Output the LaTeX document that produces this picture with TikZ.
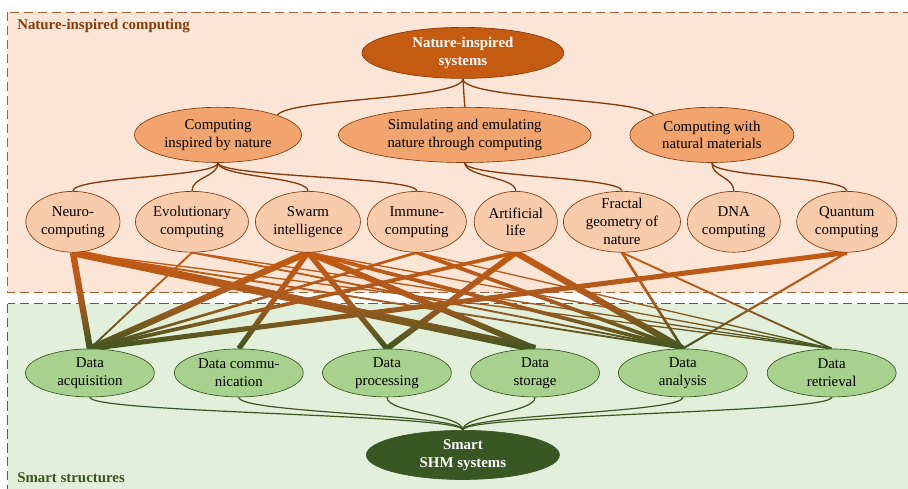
\documentclass[tikz,border=0pt]{standalone}
\usepackage{fontspec}
\setmainfont{Liberation Serif}
\usepackage{tikz}
\usetikzlibrary{shapes.geometric,calc}
\definecolor{natzone}{HTML}{FBE5D6}
\definecolor{natedge}{HTML}{A65F35}
\definecolor{natdark}{HTML}{843C0C}
\definecolor{natroot}{HTML}{C55A11}
\definecolor{natmid}{HTML}{F2A46E}
\definecolor{natleaf}{HTML}{F8CBAD}
\definecolor{smzone}{HTML}{E2EFDA}
\definecolor{smedge}{HTML}{4A6B38}
\definecolor{smdark}{HTML}{385723}
\definecolor{smleaf}{HTML}{A9D18E}
\definecolor{lnktop}{HTML}{C55A11}
\definecolor{lnkmid}{HTML}{AA5A1E}
\definecolor{lnkbot}{HTML}{3A5721}
\newcommand{\nodefont}{\fontsize{11.2}{13.5}\selectfont}
\pgfdeclarelayer{zones}
\pgfdeclarelayer{links}
\pgfsetlayers{zones,links,main}

\begin{document}
\begin{tikzpicture}[
  oval/.style={ellipse, draw, line width=0.5pt, align=center, inner sep=0pt, font=\nodefont},
  root/.style={oval, draw=natdark, fill=natroot, text=white, font=\nodefont\bfseries,
               minimum width=5.34cm, minimum height=1.35cm},
  branch/.style={oval, draw=natdark, fill=natmid, minimum height=1.46cm},
  leaf/.style={oval, draw=natdark, fill=natleaf, minimum height=1.61cm},
  task/.style={oval, draw=smdark, fill=smleaf, minimum width=3.41cm, minimum height=1.27cm},
  sink/.style={oval, draw=smdark, fill=smdark, text=white, font=\nodefont\bfseries,
               minimum width=5.11cm, minimum height=1.30cm},
  zone/.style={line width=0.8pt, dash pattern=on 7pt off 3.5pt},
  zonelab/.style={anchor=west, inner sep=0pt, font=\nodefont\bfseries},
  tie/.style={draw=natdark, line width=1pt},
  gtie/.style={draw=smdark, line width=0.9pt},
  link/.style={top color=lnktop, bottom color=lnkbot, middle color=lnkmid}]
\useasboundingbox (0,0) rectangle (24.03,-12.94);
% the two zones
\begin{pgfonlayer}{zones}
\draw[zone, draw=natedge, fill=natzone] (0.21,-0.32) rectangle (24.3,-7.75);
\draw[zone, draw=smedge, fill=smzone] (0.21,-8.04) rectangle (24.3,-13.2);
\end{pgfonlayer}
\node[zonelab, text=natdark] (natlab) at (0.45,-0.69) {Nature-inspired computing};
\node[zonelab, text=smdark] (smlab) at (0.45,-12.65) {Smart structures};
% nature-inspired tree
\node[root] (nis) at (12.25,-1.40) {Nature-inspired\\systems};
\node[branch, minimum width=4.42cm] (cin) at (5.77,-3.57) {Computing\\inspired by nature};
\node[branch, minimum width=6.69cm] (sim) at (12.30,-3.57) {Simulating and emulating\\nature through computing};
\node[branch, minimum width=4.34cm] (cwm) at (18.84,-3.57) {Computing with\\natural materials};
\node[leaf, minimum width=2.49cm] (neuro)   at (1.93,-5.87)  {Neuro-\\computing};
\node[leaf, minimum width=2.99cm] (evol)    at (5.08,-5.87)  {Evolutionary\\computing};
\node[leaf, minimum width=2.78cm] (swarm)   at (8.15,-5.87)  {Swarm\\intelligence};
\node[leaf, minimum width=2.62cm] (immune)  at (11.03,-5.87) {Immune-\\computing};
\node[leaf, minimum width=2.20cm] (alife)   at (13.65,-5.87) {Artificial\\life};
\node[leaf, minimum width=3.10cm, inner ysep=-0.11cm] (fractal) at (16.46,-5.87) {Fractal\\geometry of\\nature};
\node[leaf, minimum width=2.46cm] (dna)     at (19.42,-5.87) {DNA\\computing};
\node[leaf, minimum width=2.65cm] (quantum) at (22.41,-5.87) {Quantum\\computing};
% smart structures
\node[task] (acq)   at (2.38,-9.87)  {Data\\acquisition};
\node[task] (comm)  at (6.32,-9.87)  {Data commu-\\nication};
\node[task] (proc)  at (10.24,-9.87) {Data\\processing};
\node[task] (store) at (14.16,-9.87) {Data\\storage};
\node[task] (anal)  at (18.07,-9.87) {Data\\analysis};
\node[task] (retr)  at (22.01,-9.87) {Data\\retrieval};
\node[sink] (shm) at (12.25,-12.04) {Smart\\SHM systems};
\begin{pgfonlayer}{links}
% tree connectors
\draw[tie] (nis.south) to[out=-90, in=55, distance=0.55cm] (cin.north east);
\draw[tie] (nis.south) -- (sim.north);
\draw[tie] (nis.south) to[out=-90, in=125, distance=0.55cm] (cwm.north west);
\foreach \p/\c in {cin/neuro, cin/evol, cin/swarm, cin/immune, sim/alife, sim/fractal, cwm/dna, cwm/quantum}
  \draw[tie] (\p.south) to[out=-90, in=90, distance=0.38cm] (\c.north);
\foreach \c in {acq, comm, proc, store, anal, retr}
  \draw[gtie] (\c.south) to[out=-90, in=90, distance=0.42cm] (shm.north);
% weighted links (half widths)
\foreach \a/\b/\w in {neuro/acq/2.4pt, neuro/store/2.9pt, neuro/anal/0.7pt, neuro/retr/0.5pt,
    evol/acq/0.7pt, evol/anal/0.7pt, evol/retr/0.5pt,
    swarm/acq/2.4pt, swarm/comm/2pt, swarm/proc/2pt, swarm/store/2.2pt, swarm/anal/1.4pt, swarm/retr/0.5pt,
    immune/acq/1pt, immune/anal/1.4pt, immune/retr/0.5pt,
    alife/acq/1.4pt, alife/proc/2.2pt, alife/anal/2.4pt,
    fractal/anal/1pt, fractal/retr/0.7pt,
    quantum/acq/1.9pt, quantum/anal/0.8pt}
  \shade[link] ($(\a.south)!\w!90:(\b.north)$) -- ($(\b.north)!\w!-90:(\a.south)$)
    -- ($(\b.north)!\w!90:(\a.south)$) -- ($(\a.south)!\w!-90:(\b.north)$) -- cycle;
\end{pgfonlayer}
\end{tikzpicture}
\end{document}
